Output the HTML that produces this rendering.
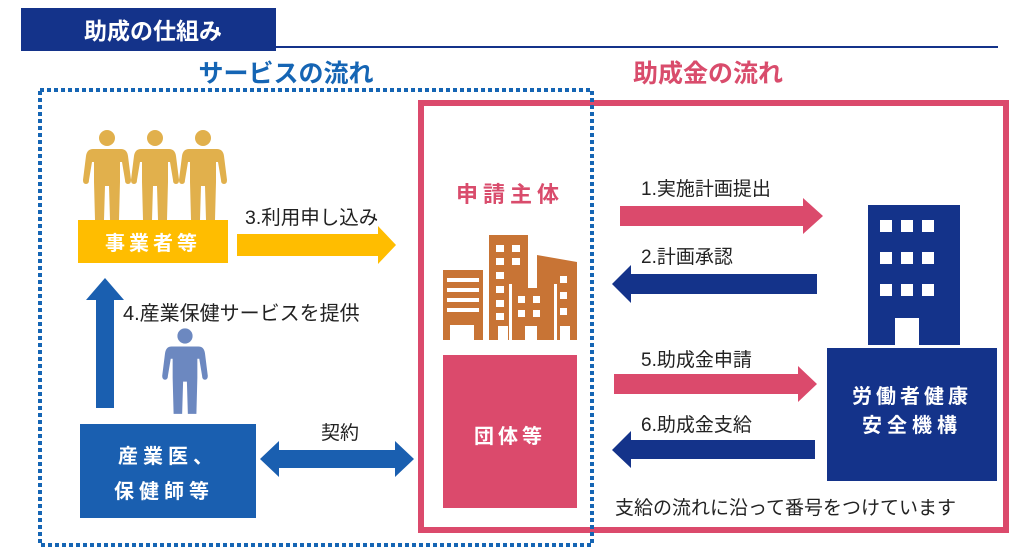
<!DOCTYPE html>
<html><head><meta charset="utf-8"><style>
html,body{margin:0;padding:0;background:#fff}
svg{display:block}
text{font-family:"Liberation Sans","Noto Sans CJK JP",sans-serif}
</style></head><body>
<svg width="1024" height="557" viewBox="0 0 1024 557" xmlns="http://www.w3.org/2000/svg">
<defs>
<g id="person">
<circle cx="0" cy="0" r="8"/>
<path d="M-14,11 H14 Q20,11 21,18 L24,42 Q24,46 21,46 Q18,46 18,42 L15,24 L13,24 L13,44 L12,82 L3,82 L2,48 L-2,48 L-3,82 L-12,82 L-13,44 L-13,24 L-15,24 L-18,42 Q-18,46 -21,46 Q-24,46 -24,42 L-21,18 Q-20,11 -14,11 Z"/>
</g>
</defs>
<rect x="21" y="8" width="255" height="43" fill="#14338a"/>
<text x="153" y="39" font-size="23" font-weight="bold" fill="#fff" text-anchor="middle">助成の仕組み</text>
<rect x="276" y="46" width="722" height="2" fill="#14338a"/>
<text x="286" y="82" font-size="25" font-weight="bold" fill="#1565b4" text-anchor="middle">サービスの流れ</text>
<text x="708" y="82" font-size="25" font-weight="bold" fill="#d94c6c" text-anchor="middle">助成金の流れ</text>
<rect x="421" y="103" width="585" height="427" fill="none" stroke="#db4a6c" stroke-width="6"/>
<rect x="40" y="90" width="552" height="455" fill="none" stroke="#1565b4" stroke-width="4" stroke-dasharray="4 3"/>
<g fill="#e1b04c">
<use href="#person" transform="translate(107,138)"/>
<use href="#person" transform="translate(155,138)"/>
<use href="#person" transform="translate(203,138)"/>
</g>
<rect x="78" y="220" width="150" height="43" fill="#ffbd00"/>
<text x="153" y="250" font-size="20" font-weight="bold" fill="#fff" text-anchor="middle" letter-spacing="4">事業者等</text>
<text x="245" y="224" font-size="19.5" fill="#222">3.利用申し込み</text>
<polygon points="237,234 378,234 378,226 396,245 378,264 378,256 237,256" fill="#ffbd00"/>
<polygon points="96,408 96,300 86,300 105,278 124,300 114,300 114,408" fill="#1a5fb0"/>
<text x="123" y="320" font-size="20" fill="#222">4.産業保健サービスを提供</text>
<g fill="#6c88c0"><use href="#person" transform="translate(185,336) scale(0.95)"/></g>
<rect x="80" y="424" width="176" height="94" fill="#1a5fb0"/>
<text x="168" y="463" font-size="20" font-weight="bold" fill="#fff" text-anchor="middle" letter-spacing="5">産業医、</text>
<text x="164" y="498" font-size="20" font-weight="bold" fill="#fff" text-anchor="middle" letter-spacing="5">保健師等</text>
<text x="340" y="439" font-size="19" fill="#222" text-anchor="middle">契約</text>
<polygon points="260,459 279,441 279,450 395,450 395,441 414,459 395,477 395,468 279,468 279,477" fill="#1a5fb0"/>
<text x="510" y="202" font-size="22" font-weight="bold" fill="#d94c6c" text-anchor="middle" letter-spacing="5">申請主体</text>
<g fill="#c87435">
<rect x="443" y="270" width="40" height="70"/>
<rect x="489" y="235" width="39" height="105"/>
<polygon points="537,255 577,262 577,340 537,340"/>
<rect x="512" y="288" width="42" height="52"/>
</g>
<g fill="#fff">
<rect x="447" y="278" width="32" height="4"/><rect x="447" y="288" width="32" height="4"/>
<rect x="447" y="298" width="32" height="4"/><rect x="447" y="308" width="32" height="4"/>
<rect x="450" y="325" width="24" height="15"/>
<rect x="496" y="245" width="8" height="7"/><rect x="512" y="245" width="8" height="7"/>
<rect x="496" y="258" width="8" height="7"/><rect x="512" y="258" width="8" height="7"/>
<rect x="496" y="272" width="8" height="7"/>
<rect x="496" y="286" width="8" height="7"/><rect x="496" y="300" width="8" height="7"/><rect x="496" y="313" width="8" height="7"/>
<rect x="498" y="326" width="10" height="14"/>
<rect x="518" y="296" width="7" height="7"/><rect x="533" y="296" width="7" height="7"/>
<rect x="518" y="310" width="7" height="7"/><rect x="533" y="310" width="7" height="7"/>
<rect x="525" y="326" width="12" height="14"/>
<rect x="509" y="284" width="3" height="56"/><rect x="554" y="284" width="3" height="56"/>
<rect x="560" y="276" width="7" height="7"/><rect x="560" y="292" width="7" height="7"/><rect x="560" y="308" width="7" height="7"/>
<rect x="560" y="326" width="10" height="14"/>
</g>
<rect x="443" y="355" width="134" height="153" fill="#db4a6c"/>
<text x="510" y="443" font-size="20" font-weight="bold" fill="#fff" text-anchor="middle" letter-spacing="4">団体等</text>
<text x="641" y="195" font-size="19" fill="#222">1.実施計画提出</text>
<polygon points="620,206 803,206 803,198 823,216 803,234 803,226 620,226" fill="#db4a6c"/>
<text x="641" y="263" font-size="19" fill="#222">2.計画承認</text>
<polygon points="817,274 631,274 631,265 612,284 631,303 631,294 817,294" fill="#14338a"/>
<text x="641" y="366" font-size="19" fill="#222">5.助成金申請</text>
<polygon points="614,374 798,374 798,366 817,384 798,402 798,394 614,394" fill="#db4a6c"/>
<text x="641" y="431" font-size="19" fill="#222">6.助成金支給</text>
<polygon points="815,440 631,440 631,431 612,450 631,468 631,459 815,459" fill="#14338a"/>
<rect x="868" y="205" width="92" height="140" fill="#14338a"/>
<g fill="#fff">
<rect x="880" y="220" width="12" height="12"/><rect x="901" y="220" width="12" height="12"/><rect x="922" y="220" width="12" height="12"/>
<rect x="880" y="252" width="12" height="12"/><rect x="901" y="252" width="12" height="12"/><rect x="922" y="252" width="12" height="12"/>
<rect x="880" y="284" width="12" height="12"/><rect x="901" y="284" width="12" height="12"/><rect x="922" y="284" width="12" height="12"/>
<rect x="895" y="318" width="24" height="27"/>
</g>
<rect x="827" y="348" width="170" height="133" fill="#14338a"/>
<text x="912" y="403" font-size="20" font-weight="bold" fill="#fff" text-anchor="middle" letter-spacing="4">労働者健康</text>
<text x="912" y="432" font-size="20" font-weight="bold" fill="#fff" text-anchor="middle" letter-spacing="5">安全機構</text>
<text x="615" y="514" font-size="19" fill="#222">支給の流れに沿って番号をつけています</text>
</svg>
</body></html>
